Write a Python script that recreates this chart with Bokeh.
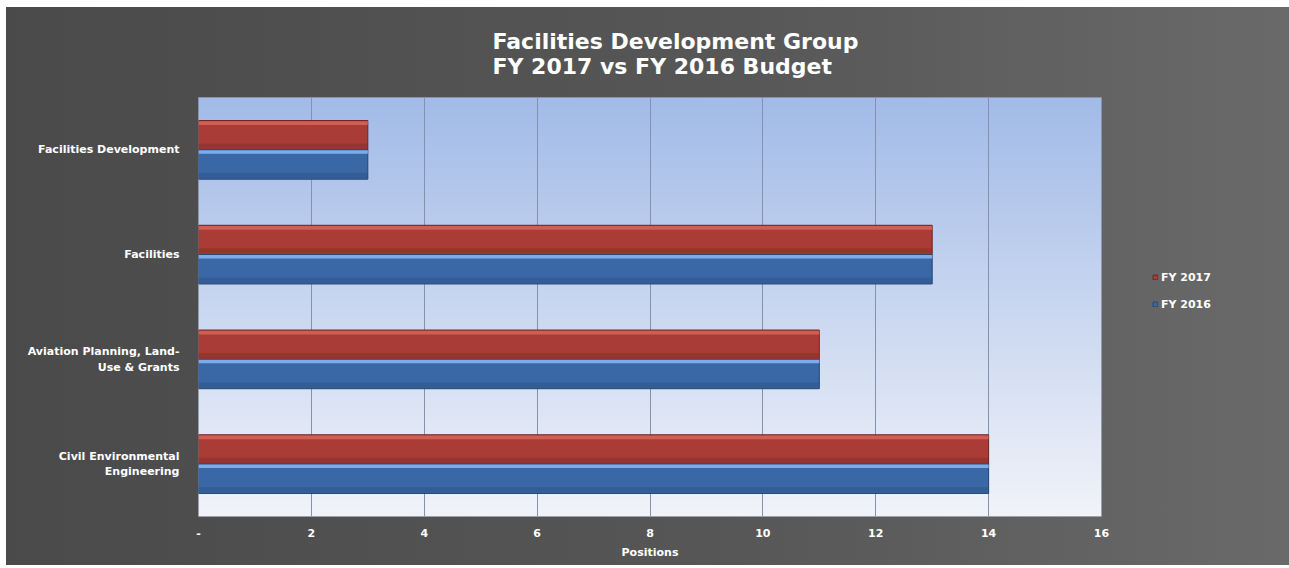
import numpy as np
from bokeh.plotting import figure
from bokeh.models import (ColumnDataSource, FactorRange, Range1d, FixedTicker, Legend, LegendItem, Title)
from bokeh.transform import dodge
from bokeh.embed import file_html
from bokeh.resources import INLINE

# ---- data ----
categories = ["Civil Environmental\nEngineering",
              "Aviation Planning, Land-\nUse & Grants",
              "Facilities",
              "Facilities Development"]
fy2017 = [14, 11, 13, 3]
fy2016 = [14, 11, 13, 3]
x_ticks = [0, 2, 4, 6, 8, 10, 12, 14, 16]
x_tick_labels = ["-", "2", "4", "6", "8", "10", "12", "14", "16"]
title_text = "Facilities Development Group\nFY 2017 vs FY 2016 Budget"

src = ColumnDataSource(dict(cat=categories, fy2017=fy2017, fy2016=fy2016))

p = figure(width=1277, height=558, frame_width=903, frame_height=419,
           output_backend="svg", toolbar_location=None, title=None,
           y_range=FactorRange(*categories, range_padding=0), x_range=Range1d(0, 16),
           min_border_left=192, min_border_right=182, min_border_top=90, min_border_bottom=49)
p.margin = (7, 0, 0, 6)

p.border_fill_alpha = 0
p.styles = {"background": "linear-gradient(to right, #4a4a4a 0%, #575757 45%, #686868 75%, #7a7a7a 100%)"}
p.background_fill_color = "#dfe7f5"
p.outline_line_color = "#7d8796"
p.outline_line_width = 1

# vertical gradient background of the plot area
top_c = np.array([0xa2, 0xbb, 0xe8])
bot_c = np.array([0xf1, 0xf3, 0xf9])
n = 120
t = np.linspace(0, 1, n)[:, None]
cols = (bot_c * (1 - t) + top_c * t).astype(np.uint32)  # row 0 = bottom
img = np.empty((n, 2), dtype=np.uint32)
view = img.view(dtype=np.uint8).reshape((n, 2, 4))
for j in range(2):
    view[:, j, 0] = cols[:, 0]
    view[:, j, 1] = cols[:, 1]
    view[:, j, 2] = cols[:, 2]
    view[:, j, 3] = 255
p.image_rgba(image=[img], x=0, y=0, dw=16, dh=len(categories), level="image")

# bars
r17 = p.hbar(y=dodge("cat", 0.14, range=p.y_range), left=0, right="fy2017", height=0.28,
             source=src, fill_color="#aa3c38", line_color="#6e2420", line_width=1)
r16 = p.hbar(y=dodge("cat", -0.14, range=p.y_range), left=0, right="fy2016", height=0.28,
             source=src, fill_color="#3a68a6", line_color="#25466f", line_width=1)
# highlights / shading
p.hbar(y=dodge("cat", 0.255, range=p.y_range), left=0, right="fy2017", height=0.035,
       source=src, fill_color="#d9675a", fill_alpha=0.8, line_color=None)
p.hbar(y=dodge("cat", -0.02, range=p.y_range), left=0, right="fy2016", height=0.035,
       source=src, fill_color="#86b4f0", fill_alpha=0.9, line_color=None)
p.hbar(y=dodge("cat", 0.035, range=p.y_range), left=0, right="fy2017", height=0.05,
       source=src, fill_color="#7c2824", fill_alpha=0.4, line_color=None)
p.hbar(y=dodge("cat", -0.245, range=p.y_range), left=0, right="fy2016", height=0.05,
       source=src, fill_color="#284e80", fill_alpha=0.4, line_color=None)

# title
p.add_layout(Title(text=title_text, align="left", offset=294, standoff=37,
                   text_color="white", text_font="DejaVu Sans",
                   text_font_size="22px", text_font_style="bold"), "above")

# axes
p.xaxis.ticker = FixedTicker(ticks=x_ticks)
p.xaxis.major_label_overrides = {k: v for k, v in zip(x_ticks, x_tick_labels)}
p.xaxis.axis_label = "Positions"
for ax in (p.xaxis, p.yaxis):
    ax.axis_line_color = None
    ax.major_tick_line_color = None
    ax.minor_tick_line_color = None
    ax.major_label_text_color = "white"
    ax.major_label_text_font = "DejaVu Sans"
    ax.major_label_text_font_style = "bold"
    ax.major_label_text_font_size = "11px"
p.xaxis.axis_label_text_color = "white"
p.xaxis.axis_label_text_font = "DejaVu Sans"
p.xaxis.axis_label_text_font_style = "bold"
p.xaxis.axis_label_text_font_size = "11px"
p.xaxis.major_label_standoff = 6
p.xaxis.axis_label_standoff = 6
p.yaxis.major_label_standoff = 13

p.xgrid.grid_line_color = "#8392ad"
p.xgrid.grid_line_width = 1
p.ygrid.grid_line_color = None

legend = Legend(items=[LegendItem(label="FY 2017", renderers=[r17]),
                       LegendItem(label="FY 2016", renderers=[r16])],
                location=(51, 202), orientation="vertical",
                background_fill_alpha=0, border_line_alpha=0,
                label_text_color="white", label_text_font="DejaVu Sans",
                label_text_font_style="bold", label_text_font_size="11px",
                glyph_width=6, glyph_height=6, label_height=20, spacing=7,
                padding=0, margin=0, label_standoff=3)
p.add_layout(legend, "right")

open("out.html", "w").write(file_html(p, INLINE))
